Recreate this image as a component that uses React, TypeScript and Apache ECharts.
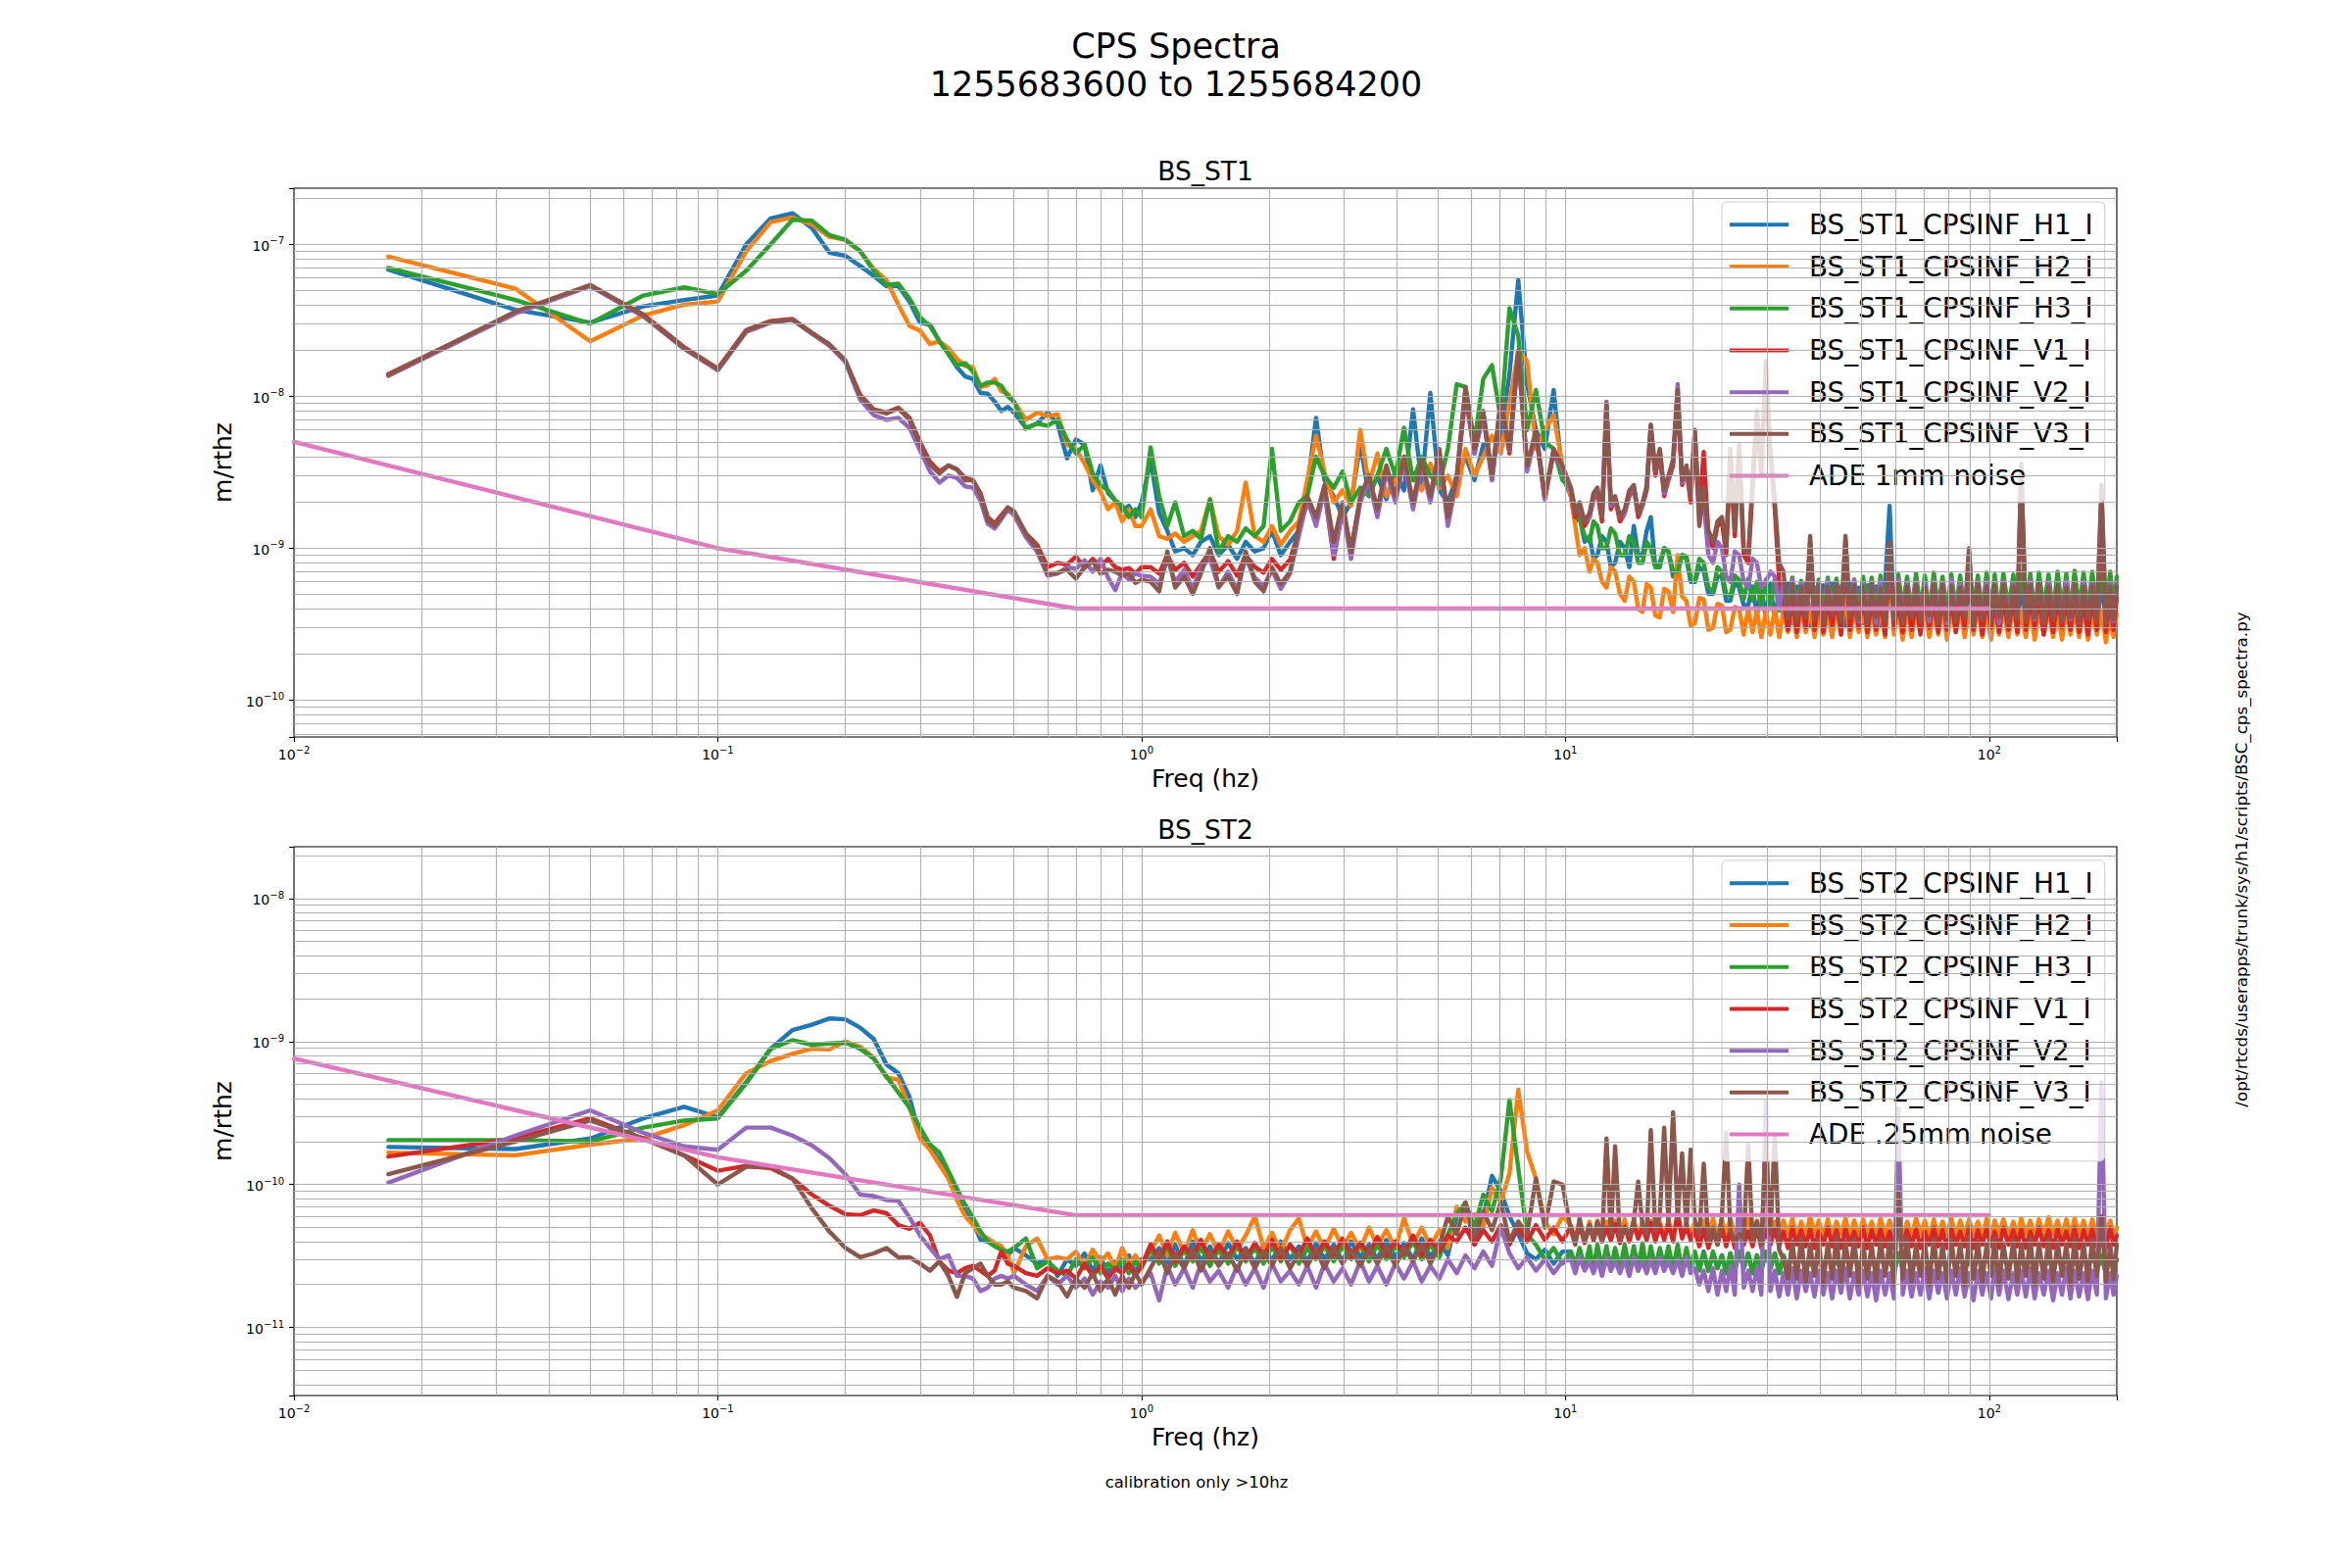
import React, { useEffect, useRef } from "react";
import * as echarts from "echarts";

// ---------- frequency grid (Hz) ----------
const F_LOW = [
  0.0167, 0.0333, 0.05, 0.0667, 0.0833, 0.1, 0.1167, 0.1333, 0.15, 0.1667,
  0.1833, 0.2, 0.2167, 0.2333, 0.25, 0.2667, 0.2833, 0.3, 0.3167, 0.3333,
  0.35, 0.3667, 0.3833, 0.4, 0.4167, 0.4333, 0.45, 0.4667, 0.4833, 0.5,
  0.5333, 0.5667, 0.6, 0.6333, 0.6667, 0.7, 0.7333, 0.7667, 0.8, 0.8333, 0.8667, 0.9, 0.9333, 0.9667, 1.0,
];
const F_MID = [
  1.05, 1.1, 1.15, 1.2, 1.26, 1.32, 1.38, 1.45, 1.52, 1.6,
  1.68, 1.76, 1.85, 1.94, 2.03, 2.13, 2.24, 2.35, 2.46, 2.58,
  2.7, 2.84, 2.98, 3.12, 3.28, 3.44, 3.6, 3.78, 3.97, 4.16,
  4.37, 4.58, 4.8, 5.04, 5.28, 5.54, 5.81, 6.1, 6.4, 6.71,
  7.04, 7.38, 7.74, 8.12, 8.52, 8.94, 9.38, 9.84,
];
const F_TOP = [
  10.3, 10.55, 10.8, 11.1, 11.4, 11.65, 11.9, 12.2, 12.5, 12.8,
  13.1, 13.45, 13.8, 14.15, 14.5, 14.85, 15.2, 15.55, 15.9, 16.3,
  16.7, 17.1, 17.5, 17.95, 18.4, 18.85, 19.3, 19.75, 20.2, 20.7,
  21.2, 21.75, 22.3, 22.85, 23.4, 23.95, 24.5, 25.1, 25.7, 26.35,
  27.0, 27.65, 28.3, 29.0, 29.7, 30.45, 31.2, 31.95, 32.7, 33.5,
  34.3, 35.15, 36.0, 36.9, 37.8, 38.7, 39.6, 40.6, 41.6, 42.6,
  43.6, 44.7, 45.8, 46.9, 48.0, 49.2, 50.4, 51.6, 52.8, 54.1,
  55.4, 56.8, 58.2, 59.6, 61.0, 62.5, 64.0, 65.6, 67.2, 68.8,
  70.5, 72.2, 74.0, 75.8, 77.6, 79.5, 81.4, 83.4, 85.4, 87.5,
  89.6, 91.8, 94.0, 96.3, 98.6, 101, 103, 105.5, 108, 111,
  114, 116.5, 119, 122, 125, 128, 131, 134.5, 138, 141.5,
  145, 148.5, 152, 155.5, 159, 163, 167, 171, 175, 179.5,
  184, 188.5, 193, 196.5, 200,
];

// ---------- BS_ST1 values, in units of 1e-10 m/rthz ----------
const TOP_UNIT = 1e-10;
const T_H1_LOW = [
  680, 370, 305, 390, 430, 460, 1000, 1480, 1600, 1280,
  880, 840, 720, 620, 530, 530, 420, 305, 295, 230,
  190, 155, 135, 130, 105, 104, 92, 80, 85, 78,
  62, 66, 78, 66, 39, 52, 48, 24, 35, 23, 20.6, 17.6, 19, 16, 20,
];
const T_H1_MID = [
  38, 17, 13, 9.5, 10, 9, 11, 12, 9, 10.5,
  8.5, 11, 9.5, 10, 13, 9, 11, 13, 25, 72,
  28, 22, 16, 20, 48, 22, 30, 21, 32, 24,
  82, 26, 105, 24, 20, 30, 40, 28, 48, 35,
  55, 140, 580, 120, 60, 45, 110, 30,
];
const T_H1_TOP = [
  22, 15, 16, 11, 12, 8.5, 9, 12, 11, 7.5,
  8, 11, 10, 7.5, 14, 9, 9, 13, 16, 7.5,
  8, 10, 9.5, 6.5, 7, 9, 8.5, 6, 6, 7.5,
  7, 5, 5, 6.5, 6.5, 4.5, 4.5, 6, 5.5, 4.2,
  4.2, 5.6, 3.6, 5.4, 3.5, 5.8, 3.3, 5.5, 3.4, 5.9,
  3.2, 5.6, 3.4, 5.8, 3.1, 5.5, 3.3, 5.7, 3.2, 5.9,
  3.4, 5.6, 3.1, 5.8, 3.3, 5.5, 3.2, 5.7, 3.4, 5.6,
  3.1, 5.8, 19, 3.3, 5.6, 3.2, 5.9, 3.4, 5.5, 3.1,
  5.7, 3.3, 5.8, 3.2, 5.6, 3.4, 5.9, 3.1, 5.5, 3.3,
  5.7, 3.2, 5.8, 3.4, 5.6, 3.1, 5.9, 3.3, 5.5, 3.2,
  5.8, 3.4, 5.6, 3.1, 5.7, 3.3, 5.9, 3.2, 5.6, 3.4,
  5.8, 3.1, 5.7, 3.3, 5.9, 3.2, 5.6, 3.4, 5.8, 3.1,
  5.9, 3.3, 5.7, 3.2, 5.5,
];
const T_H2_LOW = [
  830, 510, 230, 340, 400, 420, 900, 1400, 1500, 1350,
  1120, 1070, 900, 690, 580, 400, 290, 270, 220, 230,
  207, 176, 158, 155, 115, 118, 130, 108, 104, 92,
  70, 78, 74, 76, 48, 45, 36, 28, 23.6, 18, 20, 15, 18, 14, 14,
];
const T_H2_MID = [
  18, 12, 11.5, 12.5, 11, 12, 13, 21, 12, 10.5,
  13, 27, 12, 11, 14, 10.5, 13, 15, 28, 55,
  32, 20, 24, 19, 60, 26, 42, 22, 28, 40,
  30, 24, 36, 25, 30, 22, 45, 30, 40, 55,
  42, 90, 200, 170, 45, 60, 75, 35,
];
const T_H2_TOP = [
  22, 14, 9, 10, 7, 8.5, 8, 6, 5.5, 7.5,
  7, 5, 4.5, 6.5, 6, 4, 3.8, 5.8, 5.5, 3.6,
  3.5, 5.4, 5.2, 3.8, 9, 4.8, 4.5, 3.1, 3.2, 4.7,
  4.6, 2.9, 3.0, 4.3, 4.2, 2.8, 2.9, 4.1, 4.0, 2.7,
  4.0, 2.8, 3.9, 2.6, 3.8, 2.7, 4.0, 2.6, 3.9, 2.8,
  4.0, 2.6, 3.9, 2.8, 4.1, 2.6, 3.8, 2.7, 3.9, 2.6,
  4.1, 2.7, 5.0, 2.6, 3.9, 2.8, 4.0, 2.6, 3.8, 2.7,
  4.0, 2.6, 7, 2.7, 3.9, 2.5, 4.0, 2.6, 3.9, 2.8,
  4.1, 2.6, 3.8, 2.7, 4.0, 2.5, 3.9, 2.8, 4.0, 2.6,
  3.9, 2.7, 4.1, 2.6, 3.8, 2.5, 4.0, 2.7, 3.9, 2.6,
  4.1, 2.7, 3.8, 2.6, 4.0, 2.5, 3.9, 2.7, 4.0, 2.6,
  3.8, 2.5, 4.0, 2.7, 3.9, 2.6, 4.1, 2.5, 3.8, 2.7,
  3.9, 2.4, 3.6, 2.6, 3.7,
];
const T_H3_LOW = [
  700, 430, 300, 460, 520, 470, 670, 1000, 1450, 1430,
  1150, 1070, 900, 670, 540, 550, 440, 330, 290, 230,
  190, 160, 165, 145, 117, 123, 123, 117, 100, 92,
  61, 66, 64, 70, 52, 42, 48, 31, 26, 24, 20.6, 19, 16, 18, 16,
];
const T_H3_MID = [
  46, 22, 14, 20, 12, 13, 11.5, 21, 9.5, 12,
  11, 13.5, 12, 14, 45, 13, 15, 20, 22, 40,
  30, 25, 32, 20, 25, 22, 30, 45, 30, 62,
  28, 40, 30, 26, 45, 120, 115, 50, 130, 160,
  70, 380, 250, 60, 110, 50, 45, 28,
];
const T_H3_TOP = [
  25, 18, 16, 12, 11, 15, 14, 10, 10, 13.5,
  12.5, 9, 9, 12, 11, 8, 8, 11, 10, 7.5,
  7.5, 10, 9.5, 7, 7, 9, 8.8, 6.5, 6, 8.5,
  8, 5.5, 5.2, 7.5, 7, 5, 4.8, 6.6, 6.2, 4.6,
  6.3, 4.5, 6.0, 4.1, 6.2, 4.0, 6.3, 3.9, 6.0, 3.8,
  6.4, 4.0, 6.1, 3.7, 6.5, 3.9, 6.2, 3.8, 6.4, 4.0,
  6.3, 3.7, 6.6, 3.9, 6.2, 3.8, 6.5, 4.0, 6.4, 3.7,
  6.6, 3.9, 6.3, 3.8, 6.7, 4.0, 6.5, 3.8, 6.8, 3.9,
  6.6, 3.7, 6.9, 4.0, 6.5, 3.8, 6.7, 3.9, 6.6, 3.7,
  6.8, 4.0, 6.6, 3.8, 6.9, 3.9, 6.7, 3.7, 6.8, 4.0,
  6.7, 3.8, 7.0, 3.9, 6.8, 3.7, 6.9, 4.0, 6.7, 3.8,
  7.0, 3.9, 6.8, 3.7, 7.1, 4.0, 6.9, 3.8, 7.0, 3.9,
  6.9, 3.8, 7.0, 4.0, 6.5,
];
const T_V1_LOW = [
  140, 355, 535, 345, 210, 152, 272, 312, 322, 262,
  218, 170, 102, 82, 78, 84, 72, 50, 37, 32,
  35, 33, 29, 28, 23, 16, 14.5, 16.5, 18.5, 17,
  12.5, 10.5, 7.5, 8, 7.8, 8.8, 7.4, 8.5, 7.6, 8.5, 7.5, 7.2, 7.4, 6.8, 7.5,
];
const T_V1_MID = [
  7.5, 6.8, 9, 7.2, 8, 6.5, 7.8, 9.5, 7, 8.2,
  6.6, 9, 7.5, 6.9, 8.5, 7.2, 8.4, 13, 20, 15,
  24, 8.5, 18, 10, 21, 28, 17, 33, 21, 37,
  19, 36, 21, 42, 15, 28, 100, 42, 75, 28,
  90, 42, 190, 33, 56, 21, 42, 33,
];
const T_V1_TOP = [
  24, 16, 19, 14, 16, 21, 23, 15, 85, 18,
  21, 15, 17, 22, 25, 16, 19, 24, 60, 30,
  42, 22, 28, 35, 100, 26, 33, 20, 55, 18,
  43, 12, 10, 14, 15, 9, 40, 12, 44, 9,
  8, 25, 70, 30, 150, 40, 18, 6, 4.6, 2.9,
  4.8, 2.8, 4.7, 3.0, 10, 2.9, 4.9, 2.8, 4.6, 3.1,
  4.8, 2.7, 10, 2.9, 4.7, 3.0, 4.9, 2.8, 4.6, 2.9,
  4.8, 2.7, 9, 3.0, 4.6, 2.8, 4.9, 2.9, 4.7, 2.7,
  4.8, 3.0, 4.6, 2.8, 4.9, 2.9, 4.7, 2.8, 4.6, 3.0,
  8.5, 2.9, 4.8, 2.7, 4.9, 3.0, 4.6, 2.8, 4.7, 2.9,
  4.8, 2.8, 30, 2.9, 4.7, 3.0, 4.9, 2.7, 4.6, 2.8,
  4.8, 3.0, 4.7, 2.9, 4.9, 2.8, 4.6, 2.7, 4.8, 2.9,
  17, 2.8, 4.7, 2.9, 4.7,
];
const T_V2_LOW = [
  136, 350, 530, 335, 205, 148, 265, 305, 318, 258,
  215, 168, 95, 75, 70, 72, 62, 44, 32, 27,
  30, 29, 25.5, 25, 20.5, 14.5, 13.5, 15.5, 18, 16.5,
  11.8, 9.5, 6.6, 6.8, 7.5, 7.3, 8.3, 7.0, 8.5, 6.4, 5.3, 6.9, 6.2, 6.8, 6.6,
];
const T_V2_MID = [
  6.5, 5.8, 8.5, 6.0, 7.2, 5.4, 7.5, 8.5, 5.5, 7.0,
  5.3, 8.6, 6.4, 5.6, 7.2, 5.4, 6.8, 12, 21, 14,
  24, 9, 18, 8.5, 20, 28, 16, 32, 20, 38,
  18, 35, 20, 42, 14, 28, 110, 42, 76, 28,
  92, 44, 195, 32, 58, 21, 44, 33,
];
const T_V2_TOP = [
  24, 17, 19, 15, 16, 22, 24, 16, 92, 19,
  21, 16, 17, 23, 25, 17, 19, 26, 64, 32,
  44, 23, 29, 38, 120, 27, 33, 22, 58, 16,
  20, 9, 8, 11, 10, 6.5, 6, 9.5, 9, 6,
  5.5, 8.5, 8, 5.5, 6, 7, 6.5, 4, 6.0, 3.5,
  6.2, 3.4, 5.9, 3.6, 11, 3.5, 6.0, 3.3, 6.1, 3.7,
  5.8, 3.4, 11.5, 3.5, 6.2, 3.3, 5.9, 3.6, 6.0, 3.2,
  6.1, 3.5, 10, 3.4, 6.2, 3.3, 5.9, 3.6, 6.0, 3.4,
  5.8, 3.3, 6.1, 3.5, 5.9, 3.2, 6.2, 3.4, 5.8, 3.6,
  9.5, 3.3, 6.0, 3.4, 6.1, 3.5, 5.9, 3.2, 6.0, 3.4,
  5.8, 3.5, 32, 3.3, 6.1, 3.4, 5.9, 3.2, 6.0, 3.5,
  5.8, 3.3, 6.1, 3.4, 5.9, 3.2, 6.0, 3.5, 5.8, 3.3,
  24, 3.4, 5.9, 3.3, 5.9,
];
const T_V3_LOW = [
  138, 360, 540, 340, 207, 150, 270, 310, 320, 260,
  220, 172, 100, 81, 77, 83, 70, 48.5, 35.5, 31,
  35, 33, 28, 28, 22.5, 15.3, 14, 16, 18.5, 17.5,
  12.5, 10, 6.8, 6.9, 7.2, 6.3, 7.5, 8.2, 6.8, 7.2, 7.0, 6.6, 6.8, 5.9, 6.2,
];
const T_V3_MID = [
  6.0, 5.2, 9.5, 5.5, 6.5, 5.0, 6.8, 10, 5.6, 6.5,
  5.0, 9.5, 6.0, 5.2, 7.5, 5.8, 7.0, 14, 22, 16,
  26, 11, 20, 9.5, 22, 30, 18, 35, 22, 40,
  20, 38, 22, 45, 16, 30, 115, 45, 80, 30,
  95, 45, 200, 35, 60, 22, 45, 35,
];
const T_V3_TOP = [
  25, 17, 20, 15, 17, 23, 25, 16, 90, 20,
  22, 16, 18, 24, 26, 17, 20, 25, 65, 32,
  45, 24, 30, 38, 110, 28, 35, 22, 60, 14,
  25, 13, 11, 15, 16, 10, 45, 13, 48, 10,
  9, 28, 80, 35, 170, 45, 20, 8, 7, 3.4,
  5.8, 3.3, 5.6, 3.5, 12, 3.4, 5.7, 3.2, 5.6, 3.6,
  5.8, 3.3, 12, 3.5, 5.7, 3.4, 5.6, 3.2, 5.8, 3.5,
  5.5, 3.3, 11, 3.4, 5.8, 3.2, 5.6, 3.5, 5.7, 3.3,
  5.5, 3.6, 5.8, 3.2, 5.7, 3.4, 5.6, 3.3, 5.5, 3.5,
  10, 3.2, 5.8, 3.4, 5.6, 3.3, 5.7, 3.5, 5.8, 3.2,
  5.6, 3.4, 36, 3.3, 5.7, 3.5, 5.8, 3.2, 5.6, 3.4,
  5.7, 3.3, 5.5, 3.5, 5.8, 3.2, 5.6, 3.4, 5.7, 3.3,
  26, 3.2, 5.6, 3.4, 5.6,
];

// ---------- BS_ST2 values, in units of 1e-12 m/rthz ----------
const BOT_UNIT = 1e-12;
const B_H1_LOW = [
  183, 177, 210, 290, 350, 295, 520, 890, 1200, 1310,
  1450, 1430, 1250, 1040, 690, 600, 410, 215, 184, 145,
  115, 93, 68, 55, 41, 40, 39, 36, 32, 36,
  32, 28, 30, 23, 30, 27, 33, 25, 31, 24, 29, 26, 32, 24, 30,
];
const B_H1_MID = [
  30, 36, 28, 38, 27, 40, 29, 37, 28, 39,
  30, 36, 28, 38, 29, 40, 30, 37, 29, 39,
  30, 38, 29, 40, 31, 38, 30, 41, 31, 39,
  30, 42, 31, 40, 32, 60, 72, 38, 60, 115,
  90, 60, 45, 33, 30, 35, 28, 34,
];
const B_H1_TOP = [
  34, 27, 35, 26, 34, 27, 36, 26, 35, 27,
  34, 26, 36, 27, 35, 25, 34, 27, 35, 26,
  33, 25, 34, 26, 33, 27, 34, 25, 33, 26,
  34, 25, 33, 26, 32, 24, 33, 25, 34, 26,
  33, 24, 32, 25, 34, 26, 33, 24, 32, 25,
  34, 26, 33, 25, 32, 24, 33, 26, 34, 25,
  32, 24, 33, 26, 34, 25, 32, 24, 33, 26,
  34, 25, 32, 24, 33, 26, 34, 25, 32, 24,
  33, 26, 34, 25, 32, 24, 33, 26, 34, 25,
  32, 24, 33, 26, 34, 25, 32, 24, 33, 26,
  34, 25, 32, 24, 33, 26, 34, 25, 32, 24,
  33, 26, 34, 25, 32, 24, 33, 26, 34, 25,
  32, 24, 33, 26, 30,
];
const B_H2_LOW = [
  167, 160, 190, 210, 260, 330, 600, 730, 820, 890,
  880, 1000, 920, 770, 560, 540, 345, 210, 175, 138,
  110, 78, 60, 52, 45, 42, 39, 37, 32, 24,
  37, 42, 30, 31, 30, 34, 27, 35, 29, 33, 26, 36, 28, 32, 27,
];
const B_H2_MID = [
  34, 44, 32, 46, 33, 48, 34, 45, 33, 47,
  35, 44, 60, 36, 46, 34, 48, 58, 36, 47,
  35, 49, 36, 46, 35, 50, 37, 48, 36, 58,
  38, 50, 37, 48, 36, 70, 55, 62, 50, 95,
  75, 120, 460, 170, 110, 55, 45, 60,
];
const B_H2_TOP = [
  52, 42, 54, 40, 55, 41, 56, 42, 55, 41,
  56, 43, 57, 41, 58, 42, 55, 43, 56, 42,
  55, 42, 57, 43, 58, 44, 54, 43, 56, 44,
  56, 45, 58, 44, 57, 44, 58, 45, 55, 43,
  57, 44, 56, 45, 58, 43, 55, 44, 56, 45,
  58, 43, 55, 44, 60, 45, 56, 43, 57, 44,
  55, 45, 58, 43, 56, 44, 57, 45, 55, 43,
  58, 44, 56, 45, 57, 43, 55, 44, 58, 45,
  56, 43, 57, 44, 55, 45, 58, 43, 56, 44,
  57, 45, 55, 43, 58, 44, 56, 45, 57, 43,
  55, 44, 58, 45, 56, 43, 57, 44, 59, 45,
  56, 43, 57, 44, 58, 45, 56, 43, 57, 44,
  59, 45, 56, 44, 50,
];
const B_H3_LOW = [
  204, 204, 200, 250, 280, 290, 510, 890, 1020, 950,
  970, 980, 890, 760, 570, 440, 345, 250, 190, 167,
  124, 93, 72, 59, 47, 40, 37, 35, 34, 36,
  42, 26, 29, 25, 23, 30, 26, 31, 24, 28, 25, 30, 24, 29, 26,
];
const B_H3_MID = [
  36, 28, 38, 27, 35, 29, 37, 27, 36, 28,
  38, 29, 36, 28, 37, 29, 38, 28, 36, 30,
  38, 29, 37, 30, 39, 29, 38, 30, 37, 31,
  40, 30, 38, 31, 45, 62, 75, 50, 85, 65,
  110, 390, 130, 45, 38, 30, 36, 28,
];
const B_H3_TOP = [
  34, 27, 36, 26, 37, 25, 38, 26, 37, 25,
  36, 26, 38, 25, 37, 26, 39, 25, 37, 26,
  36, 27, 37, 26, 38, 25, 36, 26, 34, 25,
  33, 25, 34, 26, 32, 24, 33, 25, 34, 26,
  33, 24, 32, 25, 34, 26, 33, 24, 32, 25,
  34, 26, 33, 25, 32, 24, 33, 26, 34, 25,
  32, 24, 34, 26, 33, 25, 32, 24, 33, 26,
  34, 25, 32, 24, 33, 26, 34, 25, 32, 24,
  33, 26, 34, 25, 32, 24, 33, 26, 34, 25,
  32, 24, 33, 26, 34, 25, 32, 24, 33, 26,
  34, 25, 32, 24, 33, 26, 34, 25, 32, 24,
  33, 26, 34, 25, 32, 24, 33, 26, 34, 25,
  32, 24, 33, 25, 30,
];
const B_V1_LOW = [
  157, 210, 290, 210, 160, 125, 135, 130, 110, 85,
  71, 62, 61, 66, 63, 52, 49, 54, 44, 29,
  25, 24, 26, 27, 25, 23, 25, 34, 28, 27,
  24, 23, 26, 24, 25, 22, 28, 23, 27, 22, 26, 24, 28, 23, 27,
];
const B_V1_MID = [
  38, 30, 40, 29, 37, 31, 41, 30, 38, 31,
  40, 30, 39, 31, 41, 30, 38, 32, 42, 31,
  40, 32, 42, 31, 39, 33, 43, 32, 40, 33,
  44, 32, 41, 34, 44, 40, 50, 38, 48, 40,
  52, 38, 50, 40, 52, 41, 50, 40,
];
const B_V1_TOP = [
  51, 40, 52, 39, 52, 41, 50, 40, 50, 41,
  53, 39, 51, 40, 53, 42, 51, 41, 54, 40,
  52, 41, 53, 40, 65, 42, 51, 41, 48, 37,
  49, 36, 47, 38, 50, 37, 48, 36, 49, 38,
  47, 37, 50, 36, 48, 38, 49, 37, 47, 36,
  50, 38, 48, 37, 49, 36, 47, 38, 50, 37,
  48, 36, 49, 38, 47, 37, 50, 36, 48, 38,
  49, 37, 47, 36, 50, 38, 48, 37, 49, 36,
  47, 38, 50, 37, 48, 36, 49, 38, 47, 37,
  50, 36, 48, 38, 49, 37, 47, 36, 50, 38,
  48, 37, 49, 36, 47, 38, 50, 37, 48, 36,
  49, 38, 47, 37, 50, 36, 48, 38, 49, 37,
  47, 36, 50, 38, 44,
];
const B_V2_LOW = [
  103, 220, 330, 230, 185, 175, 250, 250, 220, 188,
  153, 118, 85, 83, 78, 77, 59, 44, 36, 30,
  32, 23, 23, 22, 18, 19, 22, 23, 22, 23,
  20, 18, 23, 20, 23, 19, 22, 17, 21, 19, 23, 18, 22, 19, 21,
];
const B_V2_MID = [
  24, 15.5, 27, 20, 26, 19, 28, 21, 25, 19,
  27, 20, 26, 19, 28, 21, 25, 20, 27, 19,
  28, 21, 26, 20, 29, 21, 27, 20, 28, 22,
  29, 21, 27, 22, 30, 24, 32, 26, 34, 27,
  50, 33, 26, 31, 25, 30, 24, 29,
];
const B_V2_TOP = [
  30, 24, 31, 25, 29, 24, 30, 23, 31, 25,
  29, 24, 30, 23, 31, 25, 29, 24, 30, 24,
  31, 25, 29, 24, 30, 23, 31, 24, 26, 20,
  25, 18, 26, 17, 25, 18, 27, 17, 100, 19,
  25, 18, 26, 17, 380, 18, 25, 16.5, 24, 17,
  26, 16, 25, 18, 24, 16.5, 25, 17, 24, 16,
  25, 17.5, 26, 16, 24, 17, 25, 16.5, 24, 15.5,
  25, 17, 24, 16, 340, 17, 25, 16.5, 24, 17,
  26, 16, 25, 17.5, 24, 16, 25, 17, 26, 16.5,
  24, 15.5, 25, 17, 24, 16, 26, 17, 25, 15.8,
  24, 17, 25, 16.5, 26, 16, 24, 17, 25, 15.5,
  24, 17, 26, 16, 25, 16.5, 24, 15.8, 25, 17,
  520, 16, 24, 17, 23,
];
const B_V3_LOW = [
  118, 200, 280, 210, 160, 100, 133, 133, 110, 68,
  47, 36, 31, 33, 36, 31, 31, 28, 25, 29,
  23, 16.4, 24, 26, 28, 23, 20, 20, 21, 19,
  18, 16, 23, 21, 16.5, 22, 19, 24, 18, 22, 17, 23, 19, 24, 20,
];
const B_V3_MID = [
  26, 34, 24, 33, 26, 35, 25, 34, 27, 33,
  25, 35, 26, 34, 27, 36, 26, 33, 27, 35,
  26, 36, 28, 35, 27, 36, 28, 37, 27, 36,
  29, 38, 28, 37, 60, 45, 75, 42, 65, 48,
  75, 40, 55, 45, 110, 50, 105, 100,
];
const B_V3_TOP = [
  48, 38, 58, 40, 52, 42, 55, 40, 210, 45,
  185, 42, 50, 44, 55, 105, 52, 45, 240, 48,
  60, 250, 55, 320, 58, 165, 50, 175, 55, 45,
  140, 40, 50, 38, 60, 230, 48, 40, 45, 42,
  190, 40, 55, 38, 200, 45, 220, 35, 30, 22,
  40, 22, 42, 21, 38, 23, 41, 20, 39, 22,
  43, 21, 40, 23, 42, 20, 39, 22, 38, 21,
  41, 23, 40, 20, 87, 22, 42, 21, 38, 23,
  40, 20, 42, 22, 38, 21, 41, 23, 39, 20,
  43, 22, 40, 21, 38, 23, 42, 20, 39, 22,
  41, 21, 38, 23, 42, 20, 39, 22, 41, 21,
  40, 23, 38, 20, 42, 22, 39, 21, 41, 23,
  60, 21, 38, 22, 38,
];

// ---------- ADE noise reference lines ----------
const ADE_F = [0.01, 0.1, 0.7, 100];
const ADE_1MM = [5e-9, 1e-9, 4e-10, 4e-10];
const ADE_025MM = [7.6e-10, 1.55e-10, 6.1e-11, 6.1e-11];

// ---------- names, colours, axis ranges ----------
const TOP_NAMES = [
  "BS_ST1_CPSINF_H1_I", "BS_ST1_CPSINF_H2_I", "BS_ST1_CPSINF_H3_I",
  "BS_ST1_CPSINF_V1_I", "BS_ST1_CPSINF_V2_I", "BS_ST1_CPSINF_V3_I",
];
const BOT_NAMES = [
  "BS_ST2_CPSINF_H1_I", "BS_ST2_CPSINF_H2_I", "BS_ST2_CPSINF_H3_I",
  "BS_ST2_CPSINF_V1_I", "BS_ST2_CPSINF_V2_I", "BS_ST2_CPSINF_V3_I",
];
const ADE_TOP_NAME = "ADE 1mm noise";
const ADE_BOT_NAME = "ADE .25mm noise";
const COLORS = ["#1f77b4", "#ff7f0e", "#2ca02c", "#d62728", "#9467bd", "#8c564b"];
const ADE_COLOR = "#e377c2";

const X_RANGE = [0.01, 200];
const TOP_Y = [5.72e-11, 2.34e-7];
const BOT_Y = [3.35e-12, 2.3e-8];

const FONT = "DejaVu Sans";
const LINE_W = 4.4;

const TOP_LOW = [T_H1_LOW, T_H2_LOW, T_H3_LOW, T_V1_LOW, T_V2_LOW, T_V3_LOW];
const TOP_MID = [T_H1_MID, T_H2_MID, T_H3_MID, T_V1_MID, T_V2_MID, T_V3_MID];
const TOP_TOP = [T_H1_TOP, T_H2_TOP, T_H3_TOP, T_V1_TOP, T_V2_TOP, T_V3_TOP];
const BOT_LOW = [B_H1_LOW, B_H2_LOW, B_H3_LOW, B_V1_LOW, B_V2_LOW, B_V3_LOW];
const BOT_MID = [B_H1_MID, B_H2_MID, B_H3_MID, B_V1_MID, B_V2_MID, B_V3_MID];
const BOT_TOP = [B_H1_TOP, B_H2_TOP, B_H3_TOP, B_V1_TOP, B_V2_TOP, B_V3_TOP];

const FREQ = F_LOW.concat(F_MID, F_TOP);

function toPairs(low: number[], mid: number[], top: number[], unit: number) {
  const v = low.concat(mid, top);
  const out: number[][] = [];
  for (let i = 0; i < FREQ.length && i < v.length; i++) out.push([FREQ[i], v[i] * unit]);
  return out;
}

function logGridValues(min: number, max: number) {
  const out: number[] = [];
  const d0 = Math.floor(Math.log10(min));
  const d1 = Math.ceil(Math.log10(max));
  for (let d = d0; d <= d1; d++) {
    for (let m = 1; m <= 9; m++) {
      const v = m * Math.pow(10, d);
      if (v > min * 1.0005 && v < max * 0.9995) out.push(v);
    }
  }
  return out;
}

function decadeLabel(v: number) {
  const e = Math.log10(v);
  const r = Math.round(e);
  if (Math.abs(e - r) > 1e-6) return "";
  const s = r < 0 ? "\u2212" + -r : String(r);
  return "{b|10}{s|" + s + "}";
}

const RICH = {
  b: { fontSize: 14, fontFamily: FONT, color: "#000", verticalAlign: "bottom" },
  s: { fontSize: 10, fontFamily: FONT, color: "#000", verticalAlign: "bottom", padding: [0, 0, 7, 0] },
};

function buildOption() {
  const grids = [
    { left: 300, top: 192, width: 1860, height: 560 },
    { left: 300, top: 864, width: 1860, height: 560 },
  ].map((g) => ({ ...g, show: true, borderColor: "#000", borderWidth: 1.1, backgroundColor: "transparent" }));

  const yRanges = [TOP_Y, BOT_Y];

  const xAxis = [0, 1].map((i) => ({
    type: "log",
    logBase: 10,
    gridIndex: i,
    min: X_RANGE[0],
    max: X_RANGE[1],
    axisLine: { show: false },
    axisTick: { show: true, length: 5, lineStyle: { color: "#000", width: 1.1 } },
    axisLabel: { formatter: decadeLabel, rich: RICH, margin: 8 },
    splitLine: { show: false },
    name: "Freq (hz)",
    nameLocation: "middle",
    nameGap: 30,
    nameTextStyle: { fontSize: 25, fontFamily: FONT, color: "#000" },
  }));

  const yAxis = [0, 1].map((i) => ({
    type: "log",
    logBase: 10,
    gridIndex: i,
    min: yRanges[i][0],
    max: yRanges[i][1],
    axisLine: { show: false },
    axisTick: { show: true, length: 5, lineStyle: { color: "#000", width: 1.1 } },
    axisLabel: { formatter: decadeLabel, rich: RICH, margin: 10 },
    splitLine: { show: false },
    name: "m/rthz",
    nameLocation: "middle",
    nameRotate: 90,
    nameGap: 54,
    nameTextStyle: { fontSize: 25, fontFamily: FONT, color: "#000" },
  }));

  const series: any[] = [];
  const xGrid = logGridValues(X_RANGE[0], X_RANGE[1]);
  const xIn = [X_RANGE[0] * 1.0002, X_RANGE[1] * 0.9998];
  for (let p = 0; p < 2; p++) {
    const yr = yRanges[p];
    const yIn = [yr[0] * 1.0002, yr[1] * 0.9998];
    const yGrid = logGridValues(yr[0], yr[1]);
    const lines: any[] = [];
    xGrid.forEach((v) => lines.push([{ coord: [v, yIn[0]] }, { coord: [v, yIn[1]] }]));
    yGrid.forEach((v) => lines.push([{ coord: [xIn[0], v] }, { coord: [xIn[1], v] }]));
    series.push({
      type: "line",
      xAxisIndex: p,
      yAxisIndex: p,
      data: [],
      silent: true,
      z: 1,
      markLine: {
        silent: true,
        symbol: ["none", "none"],
        label: { show: false },
        emphasis: { disabled: true },
        lineStyle: { color: "#b0b0b0", width: 1.1, type: "solid" },
        data: lines,
      },
    });
  }

  const addPanel = (
    p: number, names: string[], lows: number[][], mids: number[][], tops: number[][],
    unit: number, adeName: string, ade: number[],
  ) => {
    names.forEach((name, i) => {
      series.push({
        type: "line",
        name,
        xAxisIndex: p,
        yAxisIndex: p,
        data: toPairs(lows[i], mids[i], tops[i], unit),
        showSymbol: false,
        symbol: "none",
        silent: true,
        z: 3,
        lineStyle: { width: LINE_W, color: COLORS[i], cap: "round", join: "round" },
        itemStyle: { color: COLORS[i] },
      });
    });
    series.push({
      type: "line",
      name: adeName,
      xAxisIndex: p,
      yAxisIndex: p,
      data: ADE_F.map((f, i) => [f, ade[i]]),
      showSymbol: false,
      symbol: "none",
      silent: true,
      z: 3,
      lineStyle: { width: LINE_W, color: ADE_COLOR, cap: "round", join: "round" },
      itemStyle: { color: ADE_COLOR },
    });
  };
  addPanel(0, TOP_NAMES, TOP_LOW, TOP_MID, TOP_TOP, TOP_UNIT, ADE_TOP_NAME, ADE_1MM);
  addPanel(1, BOT_NAMES, BOT_LOW, BOT_MID, BOT_TOP, BOT_UNIT, ADE_BOT_NAME, ADE_025MM);

  const legendBase = {
    orient: "vertical",
    left: 1757,
    icon: "rect",
    itemWidth: 60,
    itemHeight: 4,
    itemGap: 0,
    padding: [2, 12, 6, 8],
    selectedMode: false,
    backgroundColor: "rgba(255,255,255,0.8)",
    borderColor: "#cccccc",
    borderWidth: 1,
    borderRadius: 5,
    itemStyle: { borderWidth: 0 },
    textStyle: { fontSize: 27.8, fontFamily: FONT, color: "#000", lineHeight: 42.7, padding: [0, 0, 0, 16] },
  };

  const txt = (text: string, x: number, y: number, size: number, rotation = 0) => ({
    type: "text",
    x,
    y,
    rotation,
    silent: true,
    style: {
      text,
      fontSize: size,
      fontFamily: FONT,
      fill: "#000",
      align: "center",
      verticalAlign: "middle",
      textAlign: "center",
      textVerticalAlign: "middle",
    },
  });

  return {
    animation: false,
    backgroundColor: "#ffffff",
    textStyle: { fontFamily: FONT },
    grid: grids,
    xAxis,
    yAxis,
    legend: [
      { ...legendBase, top: 206, data: [...TOP_NAMES, ADE_TOP_NAME] },
      { ...legendBase, top: 878, data: [...BOT_NAMES, ADE_BOT_NAME] },
    ],
    series,
    graphic: [
      txt("CPS Spectra", 1200, 47, 35),
      txt("1255683600 to 1255684200", 1200, 86, 35),
      txt("BS_ST1", 1230, 174, 26.5),
      txt("BS_ST2", 1230, 846, 26.5),
      txt("/opt/rtcds/userapps/trunk/sys/h1/scripts/BSC_cps_spectra.py", 2287, 877, 16.7, Math.PI / 2),
      txt("calibration only >10hz", 1221, 1512, 16.5),
    ],
  };
}

export default function App() {
  const ref = useRef<HTMLDivElement>(null);
  useEffect(() => {
    if (!ref.current) return;
    const chart = echarts.init(ref.current, undefined, { renderer: "svg", width: 2400, height: 1600 });
    chart.setOption(buildOption() as any);
    return () => chart.dispose();
  }, []);
  return (
    <div
      ref={ref}
      style={{ position: "absolute", left: 0, top: 0, width: 2400, height: 1600, background: "#fff" }}
    />
  );
}
